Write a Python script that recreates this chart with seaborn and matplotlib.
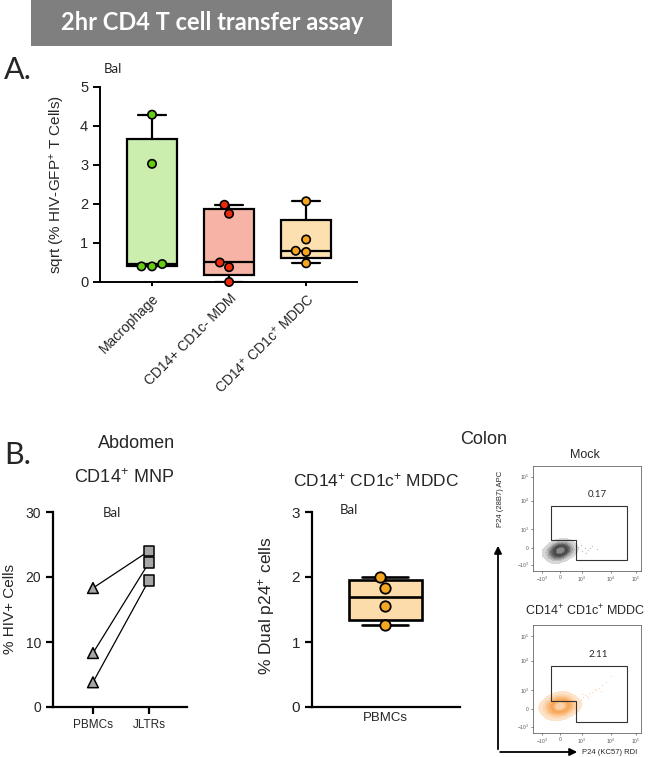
import numpy as np
import pandas as pd
import matplotlib
matplotlib.use("Agg")
import matplotlib.pyplot as plt
import seaborn as sns
from matplotlib.patches import Rectangle, Polygon, FancyArrowPatch
from matplotlib.colors import LinearSegmentedColormap

# ---------------- data ----------------
a_keys = ["Macrophage", "MDM", "MDDC"]
a_ticklabels = ["Macrophage", "CD14+ CD1c- MDM", r"CD14$^{+}$ CD1c$^{+}$ MDDC"]
a_macrophage = [4.29, 3.03, 0.40, 0.46, 0.40]
a_mdm = [1.98, 1.75, 0.50, 0.38, 0.00]
a_mddc = [2.07, 1.09, 0.80, 0.77, 0.48]

b_cats = ["PBMCs", "JLTRs"]
b_pbmc = [18.3, 8.3, 3.8]
b_jltr = [24.0, 22.2, 19.5]

m_cats = ["PBMCs"]
m_pbmc = [2.00, 1.83, 1.55, 1.26]

flow_xticks = [8.4, 24.8, 45.0, 72.0, 95.3]
flow_xticklabels = [r"$-10^3$", "0", r"$10^3$", r"$10^4$", r"$10^5$"]
flow_yticks = [6, 22, 40, 67, 90]
flow_yticklabels = [r"$-10^3$", "0", r"$10^3$", r"$10^4$", r"$10^5$"]
gate_x = [17, 87, 87, 39.5, 39.5, 17]
gate_y = [62, 62, 10.5, 10.5, 30, 30]
flow_freqs = ["0.17", "2.11"]
flow_titles = ["Mock", r"CD14$^{+}$ CD1c$^{+}$ MDDC"]

mock_core_x = [17, 20, 23, 24, 25, 26, 27, 30, 33, 22, 28, 25, 24, 26]
mock_core_y = [18, 21, 19, 16, 20, 23, 18, 20, 19, 15, 22, 24, 14, 20]
mock_tail_x = [36, 39, 42, 45, 48, 51, 55, 59, 38, 44, 49, 53, 41, 35, 13, 11]
mock_tail_y = [21, 18, 23, 19, 22, 20, 24, 21, 16, 25, 17, 22, 20, 24, 21, 17]
mddc_core_x = [16, 19, 22, 24, 25, 26, 28, 31, 34, 21, 27, 25, 23, 29]
mddc_core_y = [24, 27, 22, 25, 24, 29, 23, 26, 25, 19, 20, 31, 26, 27]
mddc_tail_x = [36, 38, 40, 42, 44, 46, 48, 50, 52, 55, 58, 61, 64, 68, 72, 39, 45, 51, 57, 63, 13, 11]
mddc_tail_y = [26, 30, 29, 32, 31, 33, 35, 34, 37, 38, 40, 42, 44, 47, 53, 27, 36, 32, 41, 39, 25, 21]

# ---------------- style ----------------
sns.set_theme(style="ticks")
plt.rcParams["font.family"] = ["Liberation Sans", "DejaVu Sans"]
plt.rcParams["mathtext.default"] = "regular"

W, H = 649, 757
fig = plt.figure(figsize=(W / 100, H / 100), dpi=100)


def ax_px(x0, y0, x1, y1):
    return fig.add_axes([x0 / W, 1 - y1 / H, (x1 - x0) / W, (y1 - y0) / H])


def ftext(x, y, s, **kw):
    fig.text(x / W, 1 - y / H, s, **kw)


def prism_stats(vals):
    q1, med, q3 = np.percentile(vals, [25, 50, 75], method="weibull")
    return dict(med=med, q1=q1, q3=q3, whislo=min(vals), whishi=max(vals), fliers=[])


def style_axis(ax, lw):
    sns.despine(ax=ax)
    for s in ["left", "bottom"]:
        ax.spines[s].set_linewidth(lw)
        ax.spines[s].set_color("black")
    ax.tick_params(width=lw, length=5, color="black", direction="out")


# ---------------- banner ----------------
fig.add_artist(Rectangle((31 / W, 1 - 46 / H), 361 / W, 46 / H,
                         transform=fig.transFigure, color="#7f7f7f", lw=0))
ftext(212, 23, "2hr CD4 T cell transfer assay", family=["Lato", "DejaVu Sans"],
      fontsize=17, fontweight="bold", color="white", ha="center", va="center")
ftext(4, 70, "A.", family=["Lato", "DejaVu Sans"], fontsize=22, va="center")
ftext(4, 455, "B.", family=["Lato", "DejaVu Sans"], fontsize=22, va="center")

# ---------------- panel A ----------------
axA = ax_px(100, 87, 357, 282)
a_fill = ["#cbeeae", "#f7b4a6", "#fde0b0"]
a_pt = ["#66cc11", "#ee2a0c", "#f7a51f"]
statsA = [prism_stats(v) for v in (a_macrophage, a_mdm, a_mddc)]
bp = axA.bxp(statsA, positions=[0, 1, 2], widths=0.65, capwidths=0.36,
             patch_artist=True, showfliers=False,
             boxprops=dict(lw=1.6, edgecolor="black"),
             whiskerprops=dict(lw=1.6, color="black"),
             capprops=dict(lw=1.6, color="black"),
             medianprops=dict(lw=1.6, color="black"))
for patch, c in zip(bp["boxes"], a_fill):
    patch.set_facecolor(c)
dfA = pd.DataFrame({"cell": np.repeat(a_keys, [len(a_macrophage), len(a_mdm), len(a_mddc)]),
                    "val": a_macrophage + a_mdm + a_mddc})
sns.swarmplot(data=dfA, x="cell", y="val", hue="cell", order=a_keys, hue_order=a_keys,
              palette=a_pt, size=6, edgecolor="black", linewidth=1.2, legend=False,
              ax=axA, zorder=5, clip_on=False)
axA.set_xlim(-0.675, 2.66)
axA.set_ylim(0, 5)
axA.set_yticks([0, 1, 2, 3, 4, 5])
axA.set_xticks([0, 1, 2])
axA.set_xticklabels(a_ticklabels, rotation=45, ha="right", rotation_mode="anchor", fontsize=10)
axA.tick_params(axis="y", labelsize=10.5)
axA.set_xlabel("")
axA.set_ylabel(r"sqrt (% HIV-GFP$^{+}$ T Cells)", fontsize=11)
axA.yaxis.set_label_coords(-0.13, 0.5)
style_axis(axA, 1.4)
axA.tick_params(axis="x", length=3)
ftext(104, 69, "Bal", family=["Lato", "DejaVu Sans"], fontsize=9.5, va="center")

# ---------------- panel B left ----------------
ftext(137, 443, "Abdomen", fontsize=13, ha="center", va="center")
ftext(124, 478, r"CD14$^{+}$ MNP", fontsize=13, ha="center", va="center")
axL = ax_px(53, 512, 187, 707)
dfL = pd.DataFrame({
    "pair": list(range(len(b_pbmc))) + list(range(len(b_jltr))),
    "group": [b_cats[0]] * len(b_pbmc) + [b_cats[1]] * len(b_jltr),
    "val": b_pbmc + b_jltr,
})
dfL["pos"] = dfL["group"].map({c: i for i, c in enumerate(b_cats)})
sns.lineplot(data=dfL, x="pos", y="val", units="pair", estimator=None,
             color="black", lw=0.9, ax=axL, zorder=2)
sns.scatterplot(data=dfL, x="pos", y="val", style="group",
                markers={b_cats[0]: "^", b_cats[1]: "s"}, color="#a6a6a6",
                edgecolor="black", linewidth=1.1, s=60, legend=False, ax=axL, zorder=3)
axL.set_xlim(-0.714, 1.68)
axL.set_ylim(0, 30)
axL.set_yticks([0, 10, 20, 30])
axL.set_xticks([0, 1])
axL.set_xticklabels(b_cats, fontsize=8.5)
axL.tick_params(axis="y", labelsize=10)
axL.set_xlabel("")
axL.set_ylabel("% HIV+ Cells", fontsize=11)
axL.yaxis.set_label_coords(-0.265, 0.5)
style_axis(axL, 1.6)
ftext(103, 513, "Bal", family=["Lato", "DejaVu Sans"], fontsize=9.5, va="center")

# ---------------- panel B middle ----------------
ftext(376, 480, r"CD14$^{+}$ CD1c$^{+}$ MDDC", fontsize=12.5, ha="center", va="center")
axM = ax_px(312, 512, 460, 707)
bpM = axM.bxp([prism_stats(m_pbmc)], positions=[0], widths=0.8, capwidths=0.5,
              patch_artist=True, showfliers=False,
              boxprops=dict(lw=1.9, edgecolor="black", facecolor="#fcdcaa"),
              whiskerprops=dict(lw=1.9, color="black"),
              capprops=dict(lw=1.9, color="black"),
              medianprops=dict(lw=1.9, color="black"))
dfM = pd.DataFrame({"cell": m_cats * len(m_pbmc), "val": m_pbmc})
sns.swarmplot(data=dfM, x="cell", y="val", color="#f5a623", size=7.5,
              edgecolor="black", linewidth=1.3, ax=axM, zorder=5)
axM.set_xlim(-0.80, 0.82)
axM.set_ylim(0, 3)
axM.set_yticks([0, 1, 2, 3])
axM.set_xticks([0])
axM.set_xticklabels(m_cats, fontsize=9.5)
axM.tick_params(axis="y", labelsize=11)
axM.set_xlabel("")
axM.set_ylabel(r"% Dual p24$^{+}$ cells", fontsize=12.5)
axM.yaxis.set_label_coords(-0.235, 0.52)
style_axis(axM, 1.6)
axM.tick_params(axis="x", length=0)
ftext(340, 510, "Bal", family=["Lato", "DejaVu Sans"], fontsize=9.5, va="center")

# ---------------- flow plots ----------------
ftext(484, 440, "Colon", fontsize=13, ha="center", va="center")
gray_cmap = LinearSegmentedColormap.from_list("gr", ["#e4e4e4", "#a0a0a0", "#606060", "#404040", "#9a9a9a"])
orange_cmap = LinearSegmentedColormap.from_list("or", ["#fde9d6", "#fbbd80", "#f7a150", "#fcd9b5"])
flow_boxes = [(533, 466, 641, 571), (533, 625, 641, 733)]
title_y = [455, 611]
cores = [(mock_core_x, mock_core_y, gray_cmap, "#777777"), (mddc_core_x, mddc_core_y, orange_cmap, "#f7b070")]
tails = [(mock_tail_x, mock_tail_y), (mddc_tail_x, mddc_tail_y)]
for i, box in enumerate(flow_boxes):
    axF = ax_px(*box)
    cx, cy, cm, dotc = cores[i]
    tx, ty = tails[i]
    sns.scatterplot(x=tx, y=ty, color=dotc, s=1.0, linewidth=0, alpha=0.45, ax=axF, legend=False)
    sns.kdeplot(x=cx, y=cy, fill=True, cmap=cm, levels=12, thresh=0.03,
                bw_adjust=1.9, ax=axF)
    axF.add_patch(Polygon(list(zip(gate_x, gate_y)), closed=True, fill=False,
                          edgecolor="#333333", lw=0.8))
    axF.text(60, 73, flow_freqs[i], family=["Lato", "DejaVu Sans"], fontsize=7,
             ha="center", va="center")
    axF.set_xlim(0, 100)
    axF.set_ylim(0, 100)
    axF.set_xticks(flow_xticks)
    axF.set_xticklabels(flow_xticklabels)
    axF.set_yticks(flow_yticks)
    axF.set_yticklabels(flow_yticklabels)
    axF.tick_params(labelsize=3.5, labelcolor="#555555", length=1.5, width=0.5,
                    color="#555555", pad=1.5)
    axF.set_xlabel("")
    axF.set_ylabel("")
    for s in axF.spines.values():
        s.set_linewidth(0.6)
        s.set_color("#666666")
    ftext((box[0] + box[2]) / 2 - 2, title_y[i], flow_titles[i], fontsize=9,
          ha="center", va="center")

# axis arrows
fig.add_artist(FancyArrowPatch((498 / W, 1 - 752 / H), (498 / W, 1 - 543 / H),
                               transform=fig.transFigure, arrowstyle="-|>",
                               mutation_scale=11, lw=1.3, color="black"))
fig.add_artist(FancyArrowPatch((497.4 / W, 1 - 752 / H), (580 / W, 1 - 752 / H),
                               transform=fig.transFigure, arrowstyle="-|>",
                               mutation_scale=11, lw=1.3, color="black"))
ftext(500, 499, "P24 (28B7) APC", fontsize=5.5, rotation=90, ha="center", va="center")
ftext(582, 752, "P24 (KC57) RDI", fontsize=5.5, ha="left", va="center")

fig.savefig("out.png", dpi=100)
